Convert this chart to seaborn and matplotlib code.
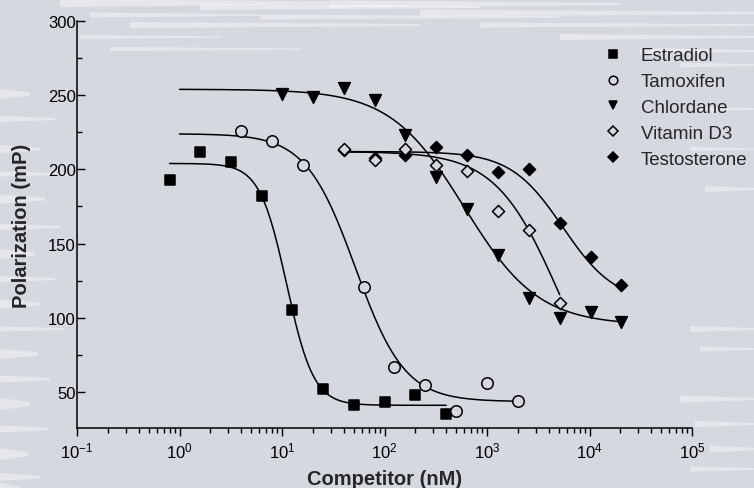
import numpy as np
import pandas as pd
import matplotlib
matplotlib.use("Agg")
import matplotlib.pyplot as plt
from matplotlib.lines import Line2D
from matplotlib.patches import Polygon
import seaborn as sns

# ---------------- data ----------------
estradiol_conc = [0.8, 1.6, 3.2, 6.4, 12.5, 25, 50, 100, 200, 400]
estradiol_mp = [193, 212, 205, 182, 105, 52, 41, 43, 48, 35]

tamoxifen_conc = [4, 8, 16, 62.5, 125, 250, 500, 1000, 2000]
tamoxifen_mp = [226, 219, 203, 121, 67, 55, 37, 56, 44]

chlordane_conc = [10, 20, 40, 80, 160, 320, 640, 1280, 2560, 5120, 10240, 20480]
chlordane_mp = [251, 249, 255, 247, 223, 195, 173, 142, 113, 100, 104, 97]

vitd3_conc = [40, 80, 160, 320, 640, 1280, 2560, 5120]
vitd3_mp = [214, 206, 214, 203, 199, 172, 159, 110]

testo_conc = [40, 80, 160, 320, 640, 1280, 2560, 5120, 10240, 20480]
testo_mp = [213, 208, 210, 215, 210, 198, 200, 164, 141, 122]

compounds = ["Estradiol", "Tamoxifen", "Chlordane", "Vitamin D3", "Testosterone"]

# fitted 4-parameter logistic curves (top, bottom, IC50, Hill, x-range)
fit_top = [204, 224, 254, 212, 212]
fit_bottom = [41, 43.5, 95, 20, 110]
fit_ic50 = [11.1, 52, 600, 5085, 5500]
fit_hill = [3.3, 1.8, 1.2, 1.4, 1.7]
fit_start = [0.8, 1.0, 1.0, 40, 40]
fit_end = [400, 2000, 20480, 5120, 20480]

x_ticks = [0.1, 1, 10, 100, 1000, 10000, 100000]
x_ticklabels = ["$10^{-1}$", "$10^{0}$", "$10^{1}$", "$10^{2}$", "$10^{3}$", "$10^{4}$", "$10^{5}$"]
y_ticks = [50, 100, 150, 200, 250, 300]

# ---------------- styling ----------------
BG = "#d5d8df"
sns.set_theme(style="ticks")
plt.rcParams["font.family"] = ["Liberation Sans", "DejaVu Sans"]
plt.rcParams["mathtext.fontset"] = "custom"
plt.rcParams["mathtext.rm"] = "Liberation Sans"
plt.rcParams["mathtext.it"] = "Liberation Sans"
plt.rcParams["mathtext.bf"] = "Liberation Sans:bold"

points = pd.DataFrame({
    "compound": sum([[c] * len(v) for c, v in zip(
        compounds, [estradiol_conc, tamoxifen_conc, chlordane_conc, vitd3_conc, testo_conc])], []),
    "conc": estradiol_conc + tamoxifen_conc + chlordane_conc + vitd3_conc + testo_conc,
    "mp": estradiol_mp + tamoxifen_mp + chlordane_mp + vitd3_mp + testo_mp,
})

curve_rows = []
for c, t, b, ic, h, s, e in zip(compounds, fit_top, fit_bottom, fit_ic50, fit_hill, fit_start, fit_end):
    xs = np.logspace(np.log10(s), np.log10(e), 300)
    ys = b + (t - b) / (1 + (xs / ic) ** h)
    curve_rows.append(pd.DataFrame({"compound": c, "conc": xs, "mp": ys}))
curves = pd.concat(curve_rows, ignore_index=True)

fig = plt.figure(figsize=(7.54, 4.89), dpi=100, facecolor=BG)

# decorative white brush strokes of the paper background (pixel coords, y from top)
strokes = [
    # left edge
    (0, 30, 95, 10), (0, 55, 120, 6), (0, 40, 150, 8), (0, 70, 175, 5), (0, 45, 200, 9),
    (0, 60, 228, 6), (0, 35, 255, 10), (0, 55, 280, 6), (0, 40, 305, 9), (0, 65, 330, 5),
    (0, 38, 355, 10), (0, 50, 380, 7), (0, 30, 405, 12), (0, 48, 430, 7), (0, 28, 455, 12),
    (0, 40, 478, 8), (0, 20, 489, 10),
    # top edge
    (60, 330, 4, 8), (90, 260, 16, 5), (130, 420, 26, 6), (200, 480, 8, 6), (260, 560, 18, 5),
    (330, 620, 5, 7), (420, 754, 14, 7), (480, 754, 26, 5), (560, 754, 38, 6),
    (80, 220, 38, 4), (110, 300, 50, 4), (640, 754, 52, 6), (680, 754, 66, 5),
    # right edge
    (700, 754, 110, 5), (690, 754, 150, 4), (705, 754, 190, 6), (690, 754, 330, 6),
    (700, 754, 350, 5), (680, 754, 400, 7), (695, 754, 425, 6), (710, 754, 450, 7),
    (690, 754, 470, 5),
]
for x0, x1, yy, th in strokes:
    poly = Polygon([[x0 / 754, 1 - (yy - th / 2) / 489], [x1 / 754, 1 - (yy - th / 6) / 489],
                    [x1 / 754, 1 - (yy + th / 6) / 489], [x0 / 754, 1 - (yy + th / 2) / 489]],
                   closed=True, transform=fig.transFigure, facecolor="white", alpha=0.4,
                   edgecolor="none", zorder=0)
    fig.add_artist(poly)

ax = fig.add_axes([77 / 754, 1 - 429 / 489, (692 - 77) / 754, (429 - 22) / 489])
ax.set_facecolor("none")

for c in compounds:
    sns.lineplot(data=curves[curves.compound == c], x="conc", y="mp", color="black",
                 linewidth=1.1, ax=ax, zorder=2, estimator=None, sort=False)

marker_style = {
    "Estradiol": dict(marker="s", s=62, facecolor="black"),
    "Tamoxifen": dict(marker="o", s=68, facecolor=BG),
    "Chlordane": dict(marker="v", s=72, facecolor="black"),
    "Vitamin D3": dict(marker="D", s=38, facecolor=BG),
    "Testosterone": dict(marker="D", s=38, facecolor="black"),
}
draw_order = ["Estradiol", "Tamoxifen", "Chlordane", "Testosterone", "Vitamin D3"]
for c in draw_order:
    st = marker_style[c]
    sns.scatterplot(data=points[points.compound == c], x="conc", y="mp", marker=st["marker"],
                    s=st["s"], facecolor=st["facecolor"], edgecolor="black", linewidth=1.1,
                    ax=ax, zorder=3, legend=False)

ax.set_xscale("log")
ax.set_xlim(0.1, 1e5)
ax.set_ylim(25.7, 300)
ax.set_xticks(x_ticks)
ax.set_xticklabels(x_ticklabels)
ax.set_yticks(y_ticks)
ax.yaxis.set_minor_locator(matplotlib.ticker.MultipleLocator(25))
ax.xaxis.set_minor_locator(matplotlib.ticker.LogLocator(base=10, subs=np.arange(2, 10), numticks=20))
ax.xaxis.set_minor_formatter(matplotlib.ticker.NullFormatter())

ax.tick_params(axis="x", which="major", direction="out", length=6, width=1, pad=3, labelsize=12, colors="black")
ax.tick_params(axis="x", which="minor", direction="out", length=3.5, width=1, colors="black")
ax.tick_params(axis="y", which="major", direction="in", length=6, width=1, pad=1, labelsize=12, colors="black")
ax.tick_params(axis="y", which="minor", direction="in", length=3.5, width=1, colors="black")

for sp in ["top", "right"]:
    ax.spines[sp].set_visible(False)
for sp in ["left", "bottom"]:
    ax.spines[sp].set_color("black")
    ax.spines[sp].set_linewidth(1.1)

ax.set_xlabel("Competitor (nM)", fontsize=14.5, fontweight="bold", labelpad=6)
ax.set_ylabel("Polarization (mP)", fontsize=14.5, fontweight="bold", labelpad=12)

handles = []
for c in compounds:
    st = marker_style[c]
    handles.append(Line2D([], [], linestyle="none", marker=st["marker"],
                          markersize=np.sqrt(st["s"]) * 0.75, markerfacecolor=st["facecolor"],
                          markeredgecolor="black", markeredgewidth=1.1))
fig.legend(handles, compounds, loc="upper left", bbox_to_anchor=(605 / 754, 1 - 48 / 489),
           frameon=False, fontsize=13.5, handlelength=0.8, handletextpad=1.1,
           labelspacing=0.47, borderpad=0, borderaxespad=0)

fig.savefig("out.png", dpi=100, facecolor=BG)
